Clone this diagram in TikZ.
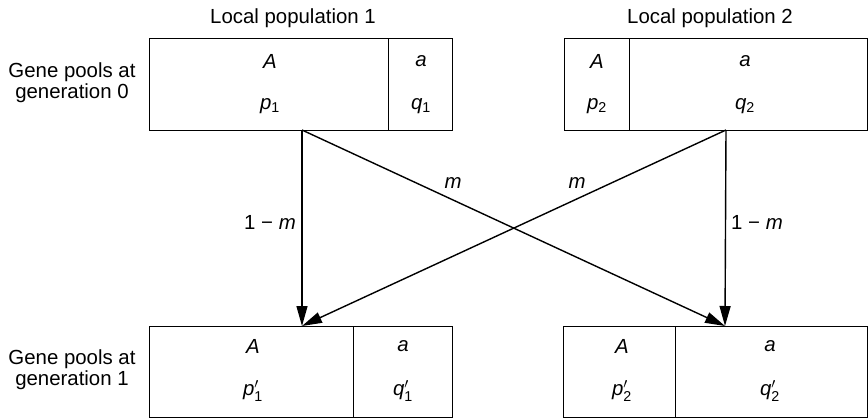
\documentclass[tikz,border=0pt]{standalone}
\usepackage{amsmath}
\usepackage{fontspec}
\setmainfont{Liberation Sans}
\usetikzlibrary{arrows.meta}

\newcommand{\allele}[2]{\textit{#1}$_{\text{#2}}$}
\newcommand{\allelenew}[2]{\textit{#1}$'_{\text{#2}}$}

\begin{document}
\begin{tikzpicture}[x=1pt, y=-1pt, line width=1.4pt,
    font=\fontsize{20.4}{21}\selectfont,
    cell/.style={draw, inner sep=0pt, minimum height=92pt, anchor=north west},
    flow/.style={-{Triangle[length=20pt,width=11pt]}},
    side/.style={align=center, inner sep=0pt}]
    \useasboundingbox (0,0) rectangle (868,418);
    % titles
    \node (title1) at (293,18) {Local population 1};
    \node (title2) at (710,18) {Local population 2};
    \node[side] (gen0) at (72,83) {Gene pools at\\generation 0};
    \node[side] (gen1) at (72,370) {Gene pools at\\generation 1};
    % generation 0
    \node[cell, minimum width=239pt] (p1A) at (149,38) {};
    \node[cell, minimum width=64pt] (p1a) at (388,38) {};
    \node[cell, minimum width=65pt] (p2A) at (564,38) {};
    \node[cell, minimum width=238pt] (p2a) at (629,38) {};
    \node (tA1) at (270,61) {\textit{A}};
    \node (ta1) at (421,61) {\textit{a}};
    \node (tp1) at (270,106) {\allele{p}{1}};
    \node (tq1) at (421,106) {\allele{q}{1}};
    \node (tA2) at (597,61) {\textit{A}};
    \node (ta2) at (745,61) {\textit{a}};
    \node (tp2) at (597,106) {\allele{p}{2}};
    \node (tq2) at (745,106) {\allele{q}{2}};
    % generation 1
    \node[cell, minimum width=204pt, minimum height=91pt] (n1A) at (149,326) {};
    \node[cell, minimum width=99pt, minimum height=91pt] (n1a) at (353,326) {};
    \node[cell, minimum width=112pt, minimum height=91pt] (n2A) at (563,326) {};
    \node[cell, minimum width=192pt, minimum height=91pt] (n2a) at (675,326) {};
    \node (uA1) at (253,346) {\textit{A}};
    \node (ua1) at (403,346) {\textit{a}};
    \node (up1) at (253,391) {\allelenew{p}{1}};
    \node (uq1) at (403,391) {\allelenew{q}{1}};
    \node (uA2) at (622,346) {\textit{A}};
    \node (ua2) at (770,346) {\textit{a}};
    \node (up2) at (622,391) {\allelenew{p}{2}};
    \node (uq2) at (770,391) {\allelenew{q}{2}};
    % migration
    \coordinate (out1) at (302,130);
    \coordinate (out2) at (726,130);
    \coordinate (in1) at (302,326);
    \coordinate (in2) at (725,326);
    \draw[flow] (out1) -- (in1);
    \draw[flow] (out2) -- (in2);
    \draw[flow] (out1) -- (in2);
    \draw[flow] (out2) -- (in1);
    \node (stay1) at (270,222) {1 − \textit{m}};
    \node (stay2) at (757,222) {1 − \textit{m}};
    \node (move1) at (453,183) {\textit{m}};
    \node (move2) at (577,183) {\textit{m}};
\end{tikzpicture}
\end{document}
